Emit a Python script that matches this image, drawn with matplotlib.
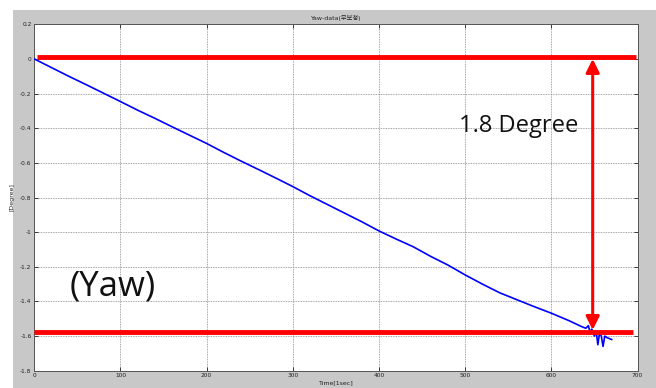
import matplotlib
matplotlib.use("Agg")
from matplotlib import pyplot as plt
from matplotlib.patches import Rectangle

plt.rcParams['font.family'] = ['DejaVu Sans', 'Noto Sans CJK KR']

# yaw angle over time (seconds, degrees)
time_sec = [0, 20, 40, 60, 80, 100, 120, 140, 160, 180, 200, 220, 240, 260, 280,
            300, 320, 340, 360, 380, 400, 420, 440, 460, 480, 500, 520, 540, 560,
            580, 600, 620, 635, 640, 643, 645, 647, 650, 652, 654, 656, 658, 660,
            662, 665, 670]
yaw_deg = [0.0, -0.05, -0.10, -0.148, -0.197, -0.246, -0.296, -0.343, -0.392,
           -0.44, -0.488, -0.54, -0.59, -0.638, -0.687, -0.737, -0.79, -0.84,
           -0.89, -0.94, -0.993, -1.04, -1.085, -1.14, -1.19, -1.247, -1.30,
           -1.35, -1.39, -1.43, -1.468, -1.51, -1.545, -1.555, -1.54, -1.58,
           -1.56, -1.60, -1.57, -1.65, -1.58, -1.60, -1.66, -1.60, -1.61, -1.62]

ref_top = 0.01
ref_bottom = -1.575
arrow_x = 648
drift_text = "1.8 Degree"

x_ticks = [0, 100, 200, 300, 400, 500, 600, 700]
y_ticks = [0.2, 0, -0.2, -0.4, -0.6, -0.8, -1, -1.2, -1.4, -1.6, -1.8]
y_tick_labels = ["0.2", "0", "-0.2", "-0.4", "-0.6", "-0.8", "-1", "-1.2",
                 "-1.4", "-1.6", "-1.8"]

fig = plt.figure(figsize=(6.56, 3.88), dpi=100)
fig.patch.set_facecolor("white")
# grey window background
fig.patches.append(Rectangle((13 / 656, 0), 1, (388 - 9.5) / 388,
                             transform=fig.transFigure, facecolor="#c8c8c8",
                             edgecolor="none", zorder=-10))

ax = fig.add_axes([34.3 / 656, 17.3 / 388, 603.2 / 656, 346.4 / 388])
ax.set_facecolor("white")

ax.plot(time_sec, yaw_deg, color="#0000ff", lw=1.2, zorder=3)

ax.plot([3.5, 698], [ref_top, ref_top], color="#ff0000", lw=3.5,
        solid_capstyle="butt", zorder=4)
ax.plot([0, 695], [ref_bottom, ref_bottom], color="#ff0000", lw=3.5,
        solid_capstyle="butt", zorder=4)
ax.annotate("", xy=(arrow_x, ref_bottom + 0.01), xytext=(arrow_x, ref_top - 0.01),
            arrowprops=dict(arrowstyle="<|-|>", color="#ff0000", lw=2.2,
                            mutation_scale=20, shrinkA=0, shrinkB=0),
            zorder=5)

ax.text(562, -0.39, drift_text, fontsize=17, ha="center", va="center",
        color="#111111", family=["Open Sans", "DejaVu Sans"])
ax.text(91, -1.315, "(Yaw)", fontsize=25, ha="center", va="center",
        color="#111111", family=["Open Sans", "DejaVu Sans"])

ax.set_xlim(0, 700)
ax.set_ylim(-1.8, 0.2)
ax.set_xticks(x_ticks)
ax.set_xticklabels([str(v) for v in x_ticks])
ax.set_yticks(y_ticks)
ax.set_yticklabels(y_tick_labels)
ax.tick_params(direction="in", length=3, width=0.6, labelsize=4.2, pad=2,
               top=True, right=True, colors="#222222")
ax.grid(True, linestyle=(0, (1, 1)), color="#888888", lw=0.6)
for s in ax.spines.values():
    s.set_color("#555555")
    s.set_linewidth(0.7)

ax.set_title("Yaw-data(무보정)", fontsize=4.5, pad=3, color="#222222")
ax.set_xlabel("Time[1sec]", fontsize=4.5, labelpad=1, color="#222222")
ax.set_ylabel("[Degree]", fontsize=4.5, labelpad=4, color="#222222")

plt.savefig("out.png", dpi=100)
